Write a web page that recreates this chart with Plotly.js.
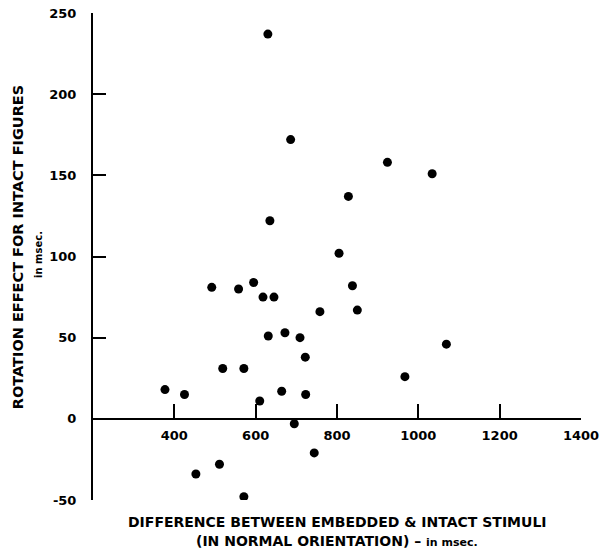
<!DOCTYPE html>
<html>
<head>
<meta charset="utf-8">
<script src="https://cdn.plot.ly/plotly-3.0.1.min.js"></script>
<style>html,body{margin:0;padding:0;background:#fff;}#chart{width:610px;height:550px;}</style>
</head>
<body>
<div id="chart"></div>
<script>
// Difference between embedded & intact stimuli (msec)
const diffMs = [630, 686, 924, 1034, 828, 635, 805, 492, 558, 595, 618, 645, 838, 758, 850,
  631, 672, 709, 722, 519, 571, 377, 425, 664, 723, 610, 695, 744, 511, 453, 571, 1069, 967];
// Rotation effect for intact figures (msec)
const rotEffect = [237, 172, 158, 151, 137, 122, 102, 81, 80, 84, 75, 75, 82, 66, 67,
  51, 53, 50, 38, 31, 31, 18, 15, 17, 15, 11, -3, -21, -28, -34, -48, 46, 26];
const xTicks = [400, 600, 800, 1000, 1200, 1400];
const yTicks = [-50, 0, 50, 100, 150, 200, 250];

const fontFam = "'DejaVu Sans', 'Liberation Sans', sans-serif";

const trace = {
  x: diffMs, y: rotEffect, type: 'scatter', mode: 'markers',
  marker: {color: '#000', size: 9, line: {width: 0}},
  hoverinfo: 'x+y', showlegend: false
};

const layout = {
  width: 610, height: 550,
  margin: {l: 93, r: 29, t: 12.5, b: 50},
  paper_bgcolor: '#fff', plot_bgcolor: '#fff',
  font: {family: fontFam, color: '#000', size: 13},
  xaxis: {
    range: [200, 1400], anchor: 'free', position: 50/300,
    tickvals: xTicks, ticktext: xTicks.map(String),
    ticks: 'inside', ticklen: 14, tickwidth: 2, tickcolor: '#000',
    showline: true, linewidth: 2, linecolor: '#000',
    showgrid: false, zeroline: false, ticklabelstandoff: 5,
    tickfont: {family: fontFam, size: 13, color: '#000', weight: 'bold'}
  },
  yaxis: {
    range: [-50, 250], tickvals: yTicks, ticktext: yTicks.map(String),
    ticks: 'inside', ticklen: 13, tickwidth: 2, tickcolor: '#000',
    showline: true, linewidth: 2, linecolor: '#000',
    showgrid: false, zeroline: false, ticklabelstandoff: 12,
    tickfont: {family: fontFam, size: 13, color: '#000', weight: 'bold'}
  },
  annotations: [
    {text: 'ROTATION EFFECT FOR INTACT FIGURES', xref: 'paper', yref: 'paper',
     x: -0.1537, y: 0.519, xanchor: 'center', yanchor: 'middle', textangle: -90,
     showarrow: false, font: {family: fontFam, size: 14.5, color: '#000', weight: 'bold'}},
    {text: 'in msec.', xref: 'paper', yref: 'paper',
     x: -0.113, y: 0.505, xanchor: 'center', yanchor: 'middle', textangle: -90,
     showarrow: false, font: {family: fontFam, size: 10, color: '#000', weight: 'bold'}},
    {text: 'DIFFERENCE BETWEEN EMBEDDED &amp; INTACT STIMULI', xref: 'paper', yref: 'paper',
     x: 0.50, y: -0.0451, xanchor: 'center', yanchor: 'middle',
     showarrow: false, font: {family: fontFam, size: 14, color: '#000', weight: 'bold'}},
    {text: '(IN NORMAL ORIENTATION) \u2013 <span style="font-size:11px">in msec.</span>', xref: 'paper', yref: 'paper',
     x: 0.50, y: -0.0841, xanchor: 'center', yanchor: 'middle',
     showarrow: false, font: {family: fontFam, size: 14, color: '#000', weight: 'bold'}}
  ]
};

Plotly.newPlot('chart', [trace], layout, {displayModeBar: false, staticPlot: true});
</script>
</body>
</html>
